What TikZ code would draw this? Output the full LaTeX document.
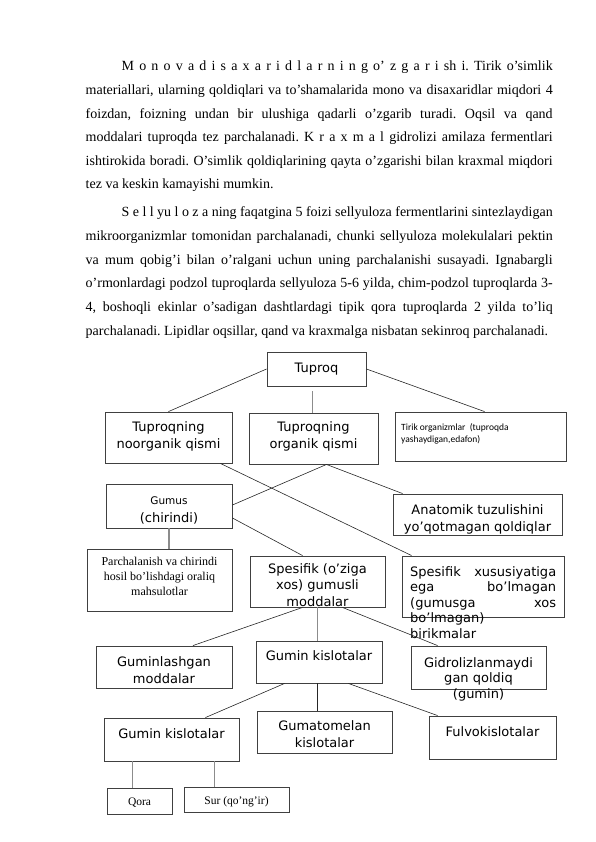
\documentclass[tikz,border=0pt]{standalone}
\usepackage{fontspec}
\setmainfont{Liberation Serif}
\newfontfamily\diagfont{DejaVu Sans}
\newfontfamily\notefont{Carlito}
\usetikzlibrary{fit}

% justified line of a given width, with the font's own word spaces
\newcommand\jline[2]{\makebox[#1][s]{\spaceskip=0pt\xspaceskip=0pt\relax #2}}

\tikzset{
  para/.style={anchor=base west, inner sep=0pt, align=left, text width=467pt,
    font=\fontsize{14}{23.6}\selectfont\frenchspacing},
  box/.style={draw=black!75, line width=0.9pt, inner sep=0pt},
  lbl/.style={anchor=base, inner sep=0pt, align=center,
    font=\diagfont\fontsize{13}{16.5}\selectfont},
  note/.style={anchor=base, inner sep=0pt, align=center,
    font=\fontsize{12}{15}\selectfont},
  link/.style={draw=black!85, line width=0.6pt},
  stem/.style={draw=black!45, line width=1.4pt},
}

\begin{document}
\begin{tikzpicture}[x=1pt, y=-1pt]
\useasboundingbox (0,0) rectangle (596,842);

% text above the scheme
\node[para] (para1) at (85.5,71) {\spaceskip=0pt\xspaceskip=0pt\relax
\hspace*{36pt}\jline{431pt}{M o n o v a d i s a x a r i d l a r n i n g o’ z g a r i sh i. Tirik o’simlik}\\
\jline{467pt}{materiallari, ularning qoldiqlari va to’shamalarida mono va disaxaridlar miqdori 4}\\
\jline{467pt}{foizdan, foizning undan bir ulushiga qadarli o’zgarib turadi. Oqsil va qand}\\
\jline{467pt}{moddalari tuproqda tez parchalanadi. K r a x m a l gidrolizi amilaza fermentlari}\\
\jline{467pt}{ishtirokida boradi. O’simlik qoldiqlarining qayta o’zgarishi bilan kraxmal miqdori}\\
tez va keskin kamayishi mumkin.};
\node[para] (para2) at (85.5,217) {\spaceskip=0pt\xspaceskip=0pt\relax
\hspace*{36pt}\jline{431pt}{S e l l yu l o z a ning faqatgina 5 foizi sellyuloza fermentlarini sintezlaydigan}\\
\jline{467pt}{mikroorganizmlar tomonidan parchalanadi, chunki sellyuloza molekulalari pektin}\\
\jline{467pt}{va mum qobig’i bilan o’ralgani uchun uning parchalanishi susayadi. Ignabargli}\\
\jline{467pt}{o’rmonlardagi podzol tuproqlarda sellyuloza 5-6 yilda, chim-podzol tuproqlarda 3-}\\
\jline{467pt}{4, boshoqli ekinlar o’sadigan dashtlardagi tipik qora tuproqlarda 2 yilda to’liq}\\
\mbox{parchalanadi. Lipidlar oqsillar, qand va kraxmalga nisbatan sekinroq parchalanadi.}};

% boxes
\node[box, fit={(267,352) (366,386)}] (tuproq) {};
\node[box, fit={(105,412) (232,463)}] (noorg) {};
\node[box, fit={(249,413) (378,464)}] (org) {};
\node[box, fit={(395,412) (566,461)}] (tirik) {};
\node[box, fit={(106,484) (232,528)}] (gumus) {};
\node[box, fit={(393,494) (562,535)}] (anat) {};
\node[box, fit={(87,549) (232,611)}] (parch) {};
\node[box, fit={(250,556) (385,607)}] (spes) {};
\node[box, fit={(402,556) (564,617)}] (nospes) {};
\node[box, fit={(96,646) (232,688)}] (gumlash) {};
\node[box, fit={(256,641) (382,683)}] (guminA) {};
\node[box, fit={(411,646) (546,689)}] (gidro) {};
\node[box, fit={(104,718) (239,761)}] (guminB) {};
\node[box, fit={(257,711) (392,753)}] (gumato) {};
\node[box, fit={(429,716) (556,759)}] (fulvo) {};
\node[box, fit={(107,788) (172,814)}] (qora) {};
\node[box, fit={(184,787) (289,812)}] (sur) {};

% box texts (multi-line ones sit on the baseline of their last line)
\node[lbl] (tuproq-t) at (tuproq.north |- 0,372) {Tuproq};
\node[lbl] (noorg-t) at (noorg.north |- 0,448) {Tuproqning\\noorganik qismi};
\node[lbl] (org-t) at (org.north |- 0,448) {Tuproqning\\organik qismi};
\node[lbl, anchor=base west, align=left, font=\notefont\fontsize{9.5}{12}\selectfont]
  (tirik-t) at (401,442) {Tirik organizmlar\ \ (tuproqda\\yashaydigan,edafon)};
\node[lbl, font=\diagfont\fontsize{13}{18}\selectfont] (gumus-t) at (gumus.north |- 0,522)
  {{\fontsize{10.5}{12}\selectfont Gumus}\\(chirindi)};
\node[lbl, font=\diagfont\fontsize{13}{17}\selectfont] (anat-t) at (anat.north |- 0,531)
  {Anatomik tuzulishini\\yo’qotmagan qoldiqlar};
\node[note] (parch-t) at (parch.north |- 0,595)
  {\spaceskip=0pt\relax Parchalanish va chirindi\\hosil bo’lishdagi oraliq\\mahsulotlar};
\node[lbl] (spes-t) at (spes.north |- 0,606) {Spesifik (o’ziga\\xos) gumusli\\moddalar};
\node[lbl, anchor=base west, align=left, text width=146pt, font=\diagfont\fontsize{13}{15.5}\selectfont]
  (nospes-t) at (410,576) {\jline{146pt}{Spesifik xususiyatiga}\\
  \jline{146pt}{ega bo’lmagan}\\\jline{146pt}{(gumusga xos}\\bo’lmagan)\\birikmalar};
\node[lbl, font=\diagfont\fontsize{13}{17}\selectfont] (gumlash-t) at (gumlash.north |- 0,683)
  {Guminlashgan\\moddalar};
\node[lbl] (guminA-t) at (guminA.north |- 0,660) {Gumin kislotalar};
\node[lbl, font=\diagfont\fontsize{13}{15.5}\selectfont] (gidro-t) at (gidro.north |- 0,698)
  {Gidrolizlanmaydi\\gan qoldiq\\(gumin)};
\node[lbl] (guminB-t) at (guminB.north |- 0,738) {Gumin kislotalar};
\node[lbl, font=\diagfont\fontsize{13}{17}\selectfont] (gumato-t) at (gumato.north |- 0,747)
  {Gumatomelan\\kislotalar};
\node[lbl] (fulvo-t) at (fulvo.north |- 0,736) {Fulvokislotalar};
\node[note, font=\fontsize{11.5}{14}\selectfont] (qora-t) at (qora.north |- 0,805) {Qora};
\node[note, font=\fontsize{11.5}{14}\selectfont] (sur-t) at (sur.north |- 0,804)
  {\spaceskip=0pt\relax Sur (qo’ng’ir)};

% connectors
\draw[link] (tuproq.west) -- (noorg.north);
\draw[link] (tuproq.east) -- ([xshift=4pt]tirik.north);
\draw[stem] ([xshift=-4pt,yshift=-5pt]tuproq.south) -- ([xshift=-4pt]tuproq.south |- org.north);
\draw[link] ([xshift=-12pt]noorg.south east) -- ([xshift=10pt]nospes.north west);
\draw[link] ([xshift=13pt]org.south) -- ([yshift=1pt]gumus.east);
\draw[link] ([xshift=13pt]org.south) -- ([xshift=10pt]anat.north west);
\draw[stem] (gumus.south) -- (gumus.south |- parch.north);
\draw[link] ([yshift=-12pt]gumus.east) -- ([xshift=-15pt]spes.north);
\draw[link] ([xshift=-15pt]spes.south) -- ([xshift=29pt]gumlash.north);
\draw[stem] (spes.south) -- (spes.south |- guminA.north);
\draw[link] ([xshift=25pt]spes.south) -- ([xshift=27pt]gidro.north west);
\draw[link] ([xshift=29pt]guminA.south west) -- ([xshift=-34pt]guminB.north east);
\draw[link] ([xshift=-2pt]guminA.south) -- ([xshift=-2pt]guminA.south |- gumato.north);
\draw[link] ([xshift=-34pt]guminA.south east) -- ([xshift=9pt]fulvo.north west);
\draw[stem] ([xshift=29pt]guminB.south west) -- ([xshift=29pt]guminB.south west |- qora.north);
\draw[stem] ([xshift=-25pt]guminB.south east) -- ([xshift=-25pt]guminB.south east |- sur.north);
\end{tikzpicture}
\end{document}
